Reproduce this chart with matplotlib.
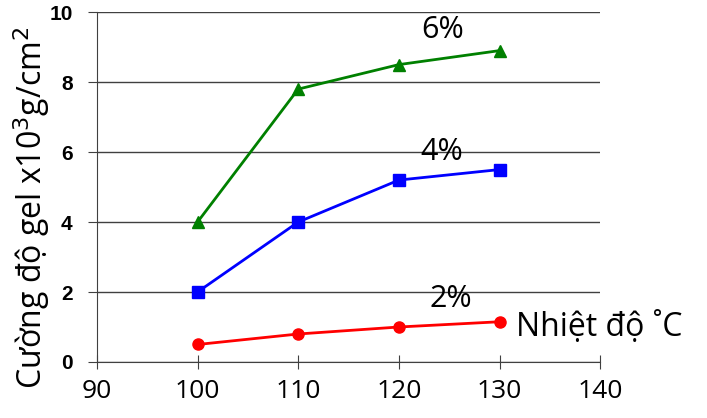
import matplotlib
matplotlib.use("Agg")
import matplotlib.pyplot as plt

# temperature (x) and gel strength for each concentration
temp = [100, 110, 120, 130]
gel_6 = [4.0, 7.8, 8.5, 8.9]
gel_4 = [2.0, 4.0, 5.2, 5.5]
gel_2 = [0.5, 0.8, 1.0, 1.15]

x_ticks = [90, 100, 110, 120, 130, 140]
y_ticks = [0, 2, 4, 6, 8, 10]

fig = plt.figure(figsize=(7.07, 4.18), dpi=100)
ax = fig.add_axes([0.137, 0.134, 0.712, 0.837])

ax.plot(temp, gel_6, color="#008000", marker="^", markersize=9, linewidth=2)
ax.plot(temp, gel_4, color="#0000ff", marker="s", markersize=8, linewidth=2)
ax.plot(temp, gel_2, color="#ff0000", marker="o", markersize=8, linewidth=2)

ax.set_xlim(90, 140)
ax.set_ylim(0, 10)
ax.set_xticks(x_ticks)
ax.set_yticks(y_ticks)
ax.grid(axis="y", color="#404040", linewidth=1)
ax.set_axisbelow(True)
for s in ["top", "right"]:
    ax.spines[s].set_visible(False)
ax.spines["left"].set_color("#404040")
ax.spines["bottom"].set_color("#404040")
ax.tick_params(axis="y", direction="out", length=6.5, color="#404040", pad=11)
ax.tick_params(axis="x", direction="inout", length=10, color="#404040", pad=7)

for lab in ax.get_yticklabels():
    lab.set_fontfamily("Liberation Sans")
    lab.set_fontweight("bold")
    lab.set_fontsize(15)
for lab in ax.get_xticklabels():
    lab.set_fontfamily("Open Sans")
    lab.set_fontsize(19)

ax.set_ylabel("Cường độ gel x10$^3$g/cm$^2$", fontfamily="Open Sans", fontsize=23)
ax.yaxis.set_label_coords(-0.09, 0.44)

ax.text(124.3, 9.5, "6%", fontfamily="Open Sans", fontsize=22, ha="center", va="center")
ax.text(124.3, 6.0, "4%", fontfamily="Open Sans", fontsize=22, ha="center", va="center")
ax.text(125.2, 1.8, "2%", fontfamily="Open Sans", fontsize=22, ha="center", va="center")
ax.text(131.6, 1.0, "Nhiệt độ ˚C", fontfamily="Open Sans", fontsize=23, ha="left", va="center")

fig.savefig("out.png", dpi=100)
